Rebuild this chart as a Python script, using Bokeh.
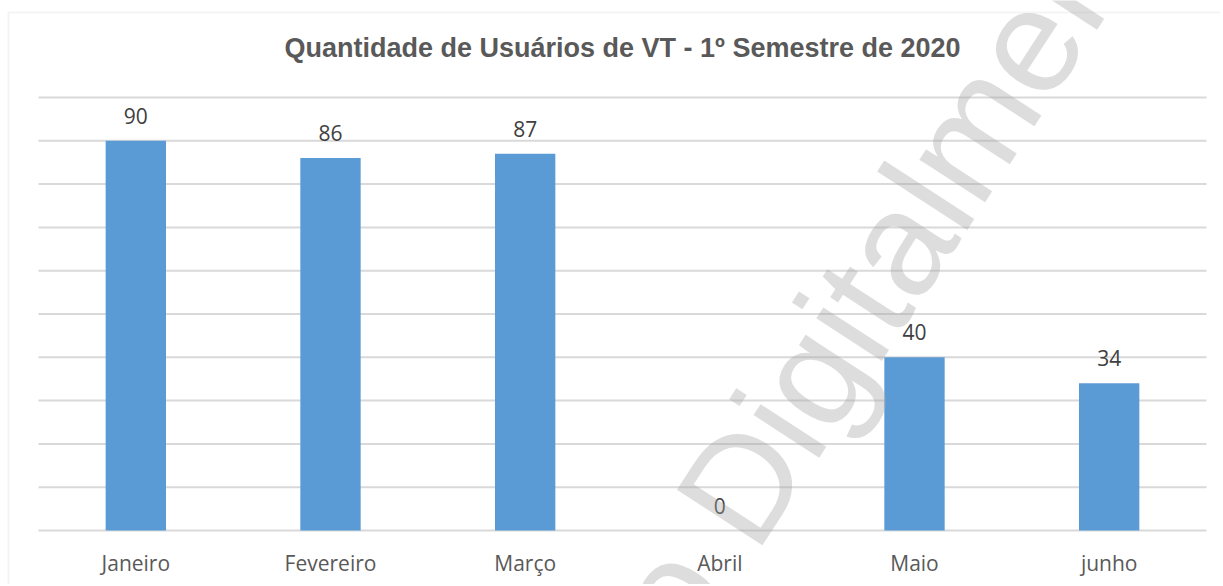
from bokeh.plotting import figure
from bokeh.models import Range1d, Label, BoxAnnotation, ColumnDataSource
from bokeh.core.properties import value
from bokeh.embed import file_html
from bokeh.resources import INLINE

# ---- data ----
meses = ["Janeiro", "Fevereiro", "Março", "Abril", "Maio", "junho"]
usuarios = [90, 86, 87, 0, 40, 34]
titulo = "Quantidade de Usuários de VT - 1º Semestre de 2020"
grid_ticks = [0, 10, 20, 30, 40, 50, 60, 70, 80, 90, 100]

n = len(meses)
xs = [i + 0.5 for i in range(n)]  # category centres on the x scale
src = ColumnDataSource(dict(x=xs, top=usuarios, lbl=[str(v) for v in usuarios], cat=meses,
                            zero=[0] * n))
gsrc = ColumnDataSource(dict(y=grid_ticks, x0=[0] * len(grid_ticks), x1=[n] * len(grid_ticks)))

W, H = 1220, 584
p = figure(x_range=Range1d(-38 / 194.67, n + 14 / 194.67),
           y_range=Range1d(-(H - 530) / 4.33, 530 / 4.33),
           width=W, height=H, output_backend="svg", toolbar_location=None,
           x_axis_location=None, y_axis_location=None, min_border=0)
p.outline_line_color = None
p.background_fill_color = "white"
p.border_fill_color = "white"
p.xgrid.visible = False
p.ygrid.visible = False

# horizontal grid lines
p.segment(x0="x0", x1="x1", y0="y", y1="y", source=gsrc, line_color="#D9D9D9", line_width=2)

# bars
p.vbar(x="x", top="top", width=0.31, source=src, fill_color="#5B9BD5", line_color=None)

# value labels
p.text(x="x", y="top", text="lbl", source=src, text_align="center", text_baseline="alphabetic",
       y_offset=-25, text_font=value("Open Sans"), text_font_size="21px", text_color="#404040")

# category labels
p.text(x="x", y="zero", text="cat", source=src, text_align="center", text_baseline="alphabetic",
       y_offset=32, text_font=value("Open Sans"), text_font_size="21px", text_color="#595959")

# title
p.add_layout(Label(x=n / 2, y=111.4, text=titulo, text_align="center", text_baseline="alphabetic",
                   text_font="Liberation Sans", text_font_style="bold", text_font_size="27px",
                   text_color="#595959"))

# chart border (top and left edges visible)
p.add_layout(BoxAnnotation(left=-0.154, right=n + 2, top=119.63, bottom=-40,
                           fill_alpha=0, line_color="#D9D9D9", line_width=2))

# watermark
wm = dict(angle=57, angle_units="deg", text_baseline="alphabetic", text_font="Liberation Sans",
          text_font_size="148px", text_color="#A6A6A6", text_alpha=0.38)
p.add_layout(Label(x=3.462, y=0.69, text="Digitalmente", text_align="left", **wm))
p.add_layout(Label(x=3.349, y=-7.16, text="Assinado", text_align="right", **wm))

open("out.html", "w").write(file_html(p, INLINE))
